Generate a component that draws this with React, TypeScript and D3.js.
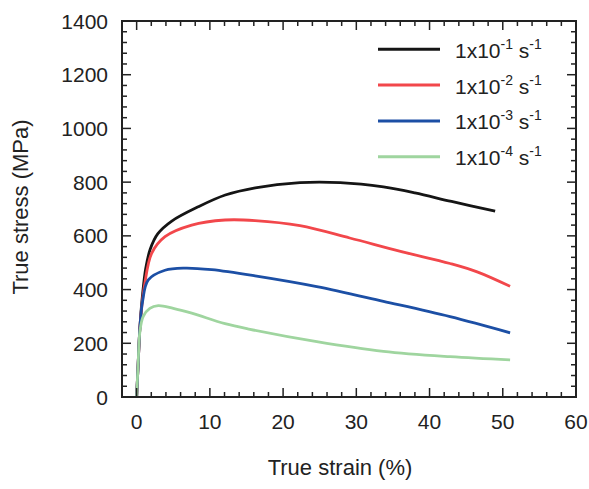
import React from "react";
import * as d3 from "d3";

const W = 589;
const H = 489;

// strain (%) , stress (MPa)
const black: [number, number][] = [
  [0, 0], [0.2, 120], [0.45, 260], [0.8, 380], [1.25, 480], [1.85, 550], [2.9, 608],
  [4.8, 655], [8.4, 708], [12.1, 752], [16.2, 779], [22.3, 798], [27.8, 798],
  [33.7, 782], [38.0, 760], [43.0, 728], [48.96, 692],
];
const red: [number, number][] = [
  [0, 0], [0.2, 120], [0.45, 260], [0.75, 350], [1.1, 420], [2.05, 535], [3.87, 597],
  [7.52, 640], [12.07, 659], [16.17, 657], [22.3, 638], [29.1, 592], [35.9, 543],
  [42.8, 497], [46.5, 466], [51.0, 412],
];
const blue: [number, number][] = [
  [0, 0], [0.2, 120], [0.45, 260], [0.8, 355], [1.59, 436], [3.87, 472], [6.6, 480],
  [10.25, 474], [16.17, 451], [24.6, 411], [33.7, 356], [42.8, 299], [51.0, 239],
];
const green: [number, number][] = [
  [0, 0], [0.2, 120], [0.45, 245], [0.9, 300], [1.8, 330], [2.95, 340], [5.0, 330],
  [7.52, 312], [12.07, 273], [15.5, 252], [24.6, 206], [33.7, 170], [42.8, 150], [51.0, 138],
];

const seriesNames = ["1x10", "1x10", "1x10", "1x10"];
const exponents = ["-1", "-2", "-3", "-4"];
const colors = ["#151515", "#f2474b", "#1c4fa5", "#9fd59f"];
const seriesData = [black, red, blue, green];

const xTickValues = [0, 10, 20, 30, 40, 50, 60];
const yTickValues = [0, 200, 400, 600, 800, 1000, 1200, 1400];

const L = 122, R = 576, T = 21, B = 397;

export default function App() {
  const x = d3.scaleLinear().domain([-2, 60]).range([L, R]);
  const y = d3.scaleLinear().domain([0, 1400]).range([B, T]);
  const line = d3
    .line<[number, number]>()
    .x((d) => x(d[0]))
    .y((d) => y(d[1]))
    .curve(d3.curveCatmullRom.alpha(0.5));

  const xMinor = d3.range(0, 61, 2);
  const yMinor = d3.range(0, 1401, 40);
  const font = "'Liberation Sans', Arial, sans-serif";

  return (
    <svg
      width={W}
      height={H}
      style={{ position: "absolute", left: 0, top: 0, background: "#fff" }}
      fontFamily={font}
    >
      <defs>
        <clipPath id="plotclip">
          <rect x={L} y={T} width={R - L} height={B - T} />
        </clipPath>
      </defs>
      <g clipPath="url(#plotclip)">
        {seriesData.map((s, i) => (
          <path key={i} d={line(s) || ""} fill="none" stroke={colors[i]} strokeWidth={2.8} strokeLinejoin="round" />
        ))}
      </g>
      <g stroke="#222" strokeWidth={1.5}>
        {xMinor.map((v) => {
          const len = v % 10 === 0 ? 9 : 5;
          return (
            <g key={"x" + v}>
              <line x1={x(v)} x2={x(v)} y1={B} y2={B - len} />
              <line x1={x(v)} x2={x(v)} y1={T} y2={T + len} />
            </g>
          );
        })}
        {yMinor.map((v) => {
          const len = v % 200 === 0 ? 9 : 5;
          return (
            <g key={"y" + v}>
              <line x1={L} x2={L + len} y1={y(v)} y2={y(v)} />
              <line x1={R} x2={R - len} y1={y(v)} y2={y(v)} />
            </g>
          );
        })}
      </g>
      <rect x={L} y={T} width={R - L} height={B - T} fill="none" stroke="#222" strokeWidth={2} />
      <g fontSize={21} fill="#222">
        {xTickValues.map((v) => (
          <text key={"xl" + v} x={x(v)} y={429} textAnchor="middle">
            {v}
          </text>
        ))}
        {yTickValues.map((v) => (
          <text key={"yl" + v} x={108} y={y(v) + 7.5} textAnchor="end">
            {v}
          </text>
        ))}
      </g>
      <text x={340} y={475} textAnchor="middle" fontSize={22} fill="#222">
        True strain (%)
      </text>
      <text transform={`translate(28,207) rotate(-90)`} textAnchor="middle" fontSize={22} fill="#222">
        True stress (MPa)
      </text>
      <g>
        {seriesNames.map((n, i) => {
          const ly = 49.3 + i * 35.8;
          return (
            <g key={"lg" + i}>
              <line x1={378} x2={440} y1={ly} y2={ly} stroke={colors[i]} strokeWidth={3} />
              <text x={455} y={ly + 8.5} fontSize={21} fill="#222">
                {n}
                <tspan fontSize={14} dy={-9}>{exponents[i]}</tspan>
                <tspan fontSize={21} dy={9}>{" s"}</tspan>
                <tspan fontSize={14} dy={-9}>-1</tspan>
              </text>
            </g>
          );
        })}
      </g>
    </svg>
  );
}
